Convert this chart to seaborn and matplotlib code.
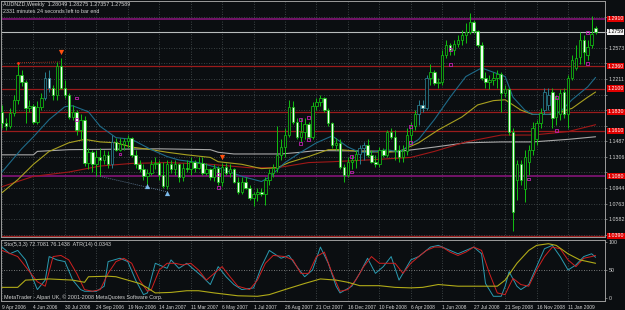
import numpy as np
import pandas as pd
import matplotlib
matplotlib.use("Agg")
import matplotlib.pyplot as plt
import matplotlib.transforms as mtransforms
import seaborn as sns

# ---------------- data (AUDNZD weekly, bar 0 = week of 9 Apr 2006) ----------------
open_ = [1.183, 1.170, 1.167, 1.182, 1.197, 1.226, 1.218, 1.188, 1.190, 1.171,
         1.189, 1.199, 1.222, 1.211, 1.202, 1.236, 1.211, 1.203, 1.177, 1.183,
         1.162, 1.174, 1.124, 1.136, 1.122, 1.131, 1.127, 1.133, 1.122, 1.148,
         1.139, 1.146, 1.149, 1.152, 1.133, 1.122, 1.116, 1.108, 1.112, 1.122,
         1.124, 1.110, 1.097, 1.122, 1.116, 1.122, 1.107, 1.118, 1.116, 1.125,
         1.118, 1.124, 1.112, 1.116, 1.107, 1.118, 1.101, 1.119, 1.112, 1.116,
         1.102, 1.090, 1.102, 1.095, 1.083, 1.087, 1.090, 1.087, 1.104, 1.112,
         1.118, 1.133, 1.142, 1.156, 1.189, 1.171, 1.154, 1.160, 1.169, 1.154,
         1.190, 1.194, 1.199, 1.185, 1.170, 1.145, 1.147, 1.119, 1.110, 1.125,
         1.127, 1.134, 1.141, 1.145, 1.133, 1.125, 1.122, 1.139, 1.133, 1.159,
         1.154, 1.139, 1.130, 1.137, 1.156, 1.166, 1.181, 1.191, 1.188, 1.222,
         1.229, 1.217, 1.218, 1.249, 1.261, 1.255, 1.262, 1.267, 1.272, 1.276,
         1.287, 1.277, 1.261, 1.222, 1.218, 1.220, 1.222, 1.227, 1.205, 1.209,
         1.159, 1.104, 1.122, 1.093, 1.125, 1.139, 1.151, 1.170, 1.185, 1.191,
         1.206, 1.177, 1.180, 1.206, 1.180, 1.222, 1.234, 1.247, 1.267, 1.249,
         1.261, 1.28049]
high_ = [1.191, 1.176, 1.188, 1.202, 1.240, 1.232, 1.220, 1.197, 1.192, 1.195,
         1.205, 1.229, 1.232, 1.214, 1.241, 1.246, 1.220, 1.205, 1.191, 1.185,
         1.180, 1.178, 1.141, 1.139, 1.139, 1.141, 1.139, 1.137, 1.156, 1.153,
         1.153, 1.153, 1.156, 1.154, 1.139, 1.127, 1.122, 1.116, 1.127, 1.130,
         1.127, 1.125, 1.127, 1.127, 1.127, 1.124, 1.124, 1.127, 1.130, 1.127,
         1.130, 1.130, 1.124, 1.118, 1.122, 1.120, 1.124, 1.123, 1.122, 1.118,
         1.107, 1.107, 1.107, 1.098, 1.090, 1.095, 1.095, 1.107, 1.116, 1.122,
         1.166, 1.151, 1.164, 1.197, 1.195, 1.176, 1.176, 1.176, 1.171, 1.194,
         1.199, 1.203, 1.200, 1.188, 1.171, 1.153, 1.151, 1.122, 1.130, 1.133,
         1.139, 1.145, 1.148, 1.151, 1.139, 1.133, 1.142, 1.141, 1.162, 1.164,
         1.162, 1.145, 1.145, 1.164, 1.171, 1.185, 1.197, 1.197, 1.226, 1.238,
         1.232, 1.222, 1.255, 1.267, 1.263, 1.267, 1.272, 1.278, 1.286, 1.298,
         1.290, 1.278, 1.264, 1.229, 1.226, 1.229, 1.232, 1.229, 1.214, 1.211,
         1.164, 1.127, 1.127, 1.139, 1.145, 1.171, 1.174, 1.188, 1.211, 1.211,
         1.211, 1.203, 1.209, 1.211, 1.226, 1.249, 1.261, 1.276, 1.272, 1.267,
         1.294, 1.28275]
low_ = [1.164, 1.162, 1.164, 1.178, 1.192, 1.213, 1.170, 1.183, 1.169, 1.169,
        1.185, 1.197, 1.206, 1.197, 1.197, 1.209, 1.199, 1.175, 1.173, 1.156,
        1.151, 1.120, 1.116, 1.113, 1.108, 1.108, 1.122, 1.118, 1.118, 1.137,
        1.137, 1.139, 1.141, 1.131, 1.118, 1.113, 1.104, 1.098, 1.109, 1.116,
        1.104, 1.095, 1.093, 1.112, 1.110, 1.102, 1.103, 1.113, 1.110, 1.113,
        1.116, 1.110, 1.109, 1.104, 1.103, 1.098, 1.097, 1.109, 1.107, 1.100,
        1.088, 1.087, 1.093, 1.081, 1.074, 1.079, 1.085, 1.075, 1.098, 1.107,
        1.113, 1.127, 1.130, 1.154, 1.169, 1.151, 1.148, 1.151, 1.151, 1.151,
        1.185, 1.190, 1.183, 1.167, 1.141, 1.139, 1.116, 1.101, 1.107, 1.116,
        1.118, 1.122, 1.127, 1.130, 1.123, 1.119, 1.119, 1.130, 1.130, 1.151,
        1.127, 1.125, 1.125, 1.133, 1.147, 1.162, 1.168, 1.183, 1.185, 1.214,
        1.214, 1.211, 1.214, 1.246, 1.249, 1.249, 1.258, 1.261, 1.263, 1.274,
        1.275, 1.258, 1.220, 1.211, 1.209, 1.214, 1.211, 1.183, 1.200, 1.156,
        1.045, 1.081, 1.098, 1.078, 1.110, 1.133, 1.145, 1.164, 1.180, 1.185,
        1.164, 1.168, 1.174, 1.176, 1.164, 1.220, 1.232, 1.238, 1.238, 1.243,
        1.257, 1.27357]
close_ = [1.170, 1.167, 1.182, 1.197, 1.226, 1.218, 1.188, 1.190, 1.171, 1.189,
          1.199, 1.222, 1.211, 1.202, 1.236, 1.211, 1.203, 1.177, 1.183, 1.162,
          1.174, 1.124, 1.136, 1.122, 1.131, 1.127, 1.133, 1.122, 1.148, 1.139,
          1.146, 1.149, 1.152, 1.133, 1.122, 1.116, 1.108, 1.112, 1.122, 1.124,
          1.110, 1.097, 1.122, 1.116, 1.122, 1.107, 1.118, 1.116, 1.125, 1.118,
          1.124, 1.112, 1.116, 1.107, 1.118, 1.101, 1.119, 1.112, 1.116, 1.102,
          1.090, 1.102, 1.095, 1.083, 1.087, 1.090, 1.087, 1.104, 1.112, 1.118,
          1.133, 1.142, 1.156, 1.189, 1.171, 1.154, 1.160, 1.169, 1.154, 1.190,
          1.194, 1.199, 1.185, 1.170, 1.145, 1.147, 1.119, 1.110, 1.125, 1.127,
          1.134, 1.141, 1.145, 1.133, 1.125, 1.122, 1.139, 1.133, 1.159, 1.154,
          1.139, 1.130, 1.137, 1.156, 1.166, 1.181, 1.191, 1.188, 1.222, 1.229,
          1.217, 1.218, 1.249, 1.261, 1.255, 1.262, 1.267, 1.272, 1.276, 1.287,
          1.277, 1.261, 1.222, 1.218, 1.220, 1.222, 1.227, 1.205, 1.209, 1.159,
          1.066, 1.122, 1.104, 1.131, 1.139, 1.164, 1.170, 1.182, 1.206, 1.203,
          1.176, 1.199, 1.205, 1.180, 1.222, 1.243, 1.246, 1.267, 1.253, 1.258,
          1.274, 1.27589]
teal_bars = [11, 12, 28, 91, 92, 106, 107, 108, 138, 139]

# moving averages, sampled along the chart (bar index, price)
ma_fast_bar = [0, 5, 8, 12, 16, 18, 22, 25, 29, 33, 38, 42, 45, 50, 55, 61, 66, 68, 72, 76,
               80, 84, 88, 91, 94, 98, 101, 106, 110, 114, 118, 122, 125, 128, 130, 133,
               135, 139, 142, 145, 149, 151]
ma_fast = [1.113, 1.140, 1.154, 1.174, 1.189, 1.190, 1.183, 1.166, 1.153, 1.151, 1.139, 1.131,
           1.127, 1.124, 1.118, 1.108, 1.102, 1.107, 1.124, 1.136, 1.147, 1.155, 1.142, 1.136,
           1.136, 1.139, 1.136, 1.151, 1.174, 1.200, 1.224, 1.234, 1.229, 1.224, 1.200, 1.185,
           1.180, 1.180, 1.183, 1.197, 1.212, 1.223]
ma_mid_bar = [0, 4, 8, 12, 17, 21, 25, 29, 33, 38, 42, 47, 53, 55, 61, 66, 70, 73, 78, 83,
              86, 91, 98, 101, 106, 111, 117, 121, 125, 128, 132, 135, 140, 145, 149, 151]
ma_mid = [1.089, 1.104, 1.122, 1.137, 1.147, 1.151, 1.148, 1.147, 1.142, 1.139, 1.136, 1.133,
          1.130, 1.125, 1.122, 1.117, 1.118, 1.124, 1.131, 1.139, 1.139, 1.137, 1.136, 1.137,
          1.147, 1.162, 1.177, 1.191, 1.196, 1.197, 1.185, 1.180, 1.180, 1.187, 1.200, 1.206]
ma_slow_bar = [0, 8, 17, 25, 33, 42, 53, 63, 70, 78, 84, 93, 104, 110, 118, 127, 135, 144, 151]
ma_slow = [1.096, 1.108, 1.113, 1.120, 1.123, 1.124, 1.122, 1.118, 1.118, 1.124, 1.125, 1.127,
           1.130, 1.137, 1.148, 1.156, 1.156, 1.160, 1.168]
ma_long_bar = [0, 8, 9, 17, 40, 53, 55, 59, 71, 76, 80, 101, 110, 118, 127, 135, 144, 151]
ma_long = [1.133, 1.133, 1.137, 1.139, 1.140, 1.139, 1.136, 1.134, 1.134, 1.136, 1.138, 1.137,
           1.142, 1.147, 1.148, 1.148, 1.151, 1.154]

# horizontal levels
red_levels = [1.236, 1.210, 1.183, 1.161, 1.039]
purple_levels = [1.291, 1.108]
bid_price = 1.27589
price_ticks = [1.2935, 1.2754, 1.2573, 1.2392, 1.2211, 1.2030, 1.1849, 1.1668, 1.1487,
               1.1306, 1.1125, 1.0944, 1.0763, 1.0582, 1.0401]

# signals / fractals
sell_arrow_bar = [15, 56]
sell_arrow_price = [1.252, 1.130]
buy_arrow_bar = [37, 42]
buy_arrow_price = [1.097, 1.089]
fractal_bar = [19, 19, 30, 55, 55, 76, 78, 76, 78, 89, 89, 104, 104, 114, 114, 134, 141, 141, 149, 149]
fractal_price = [1.199, 1.174, 1.134, 1.110, 1.095, 1.174, 1.176, 1.146, 1.151, 1.131, 1.113,
                 1.166, 1.147, 1.255, 1.238, 1.105, 1.200, 1.161, 1.275, 1.239]
res_line_bar = [4, 15]
res_line_price = [1.240, 1.241]
sup_line_bar = [25, 42]
sup_line_price = [1.108, 1.090]

# stochastic (5,3,3) main / signal and ATR(14)
sto_main_bar = [0, 2, 4, 6, 8, 9, 11, 12, 14, 16, 18, 20, 21, 24, 26, 27, 30, 32, 34, 36, 37, 39,
                42, 43, 45, 47, 49, 51, 53, 55, 57, 59, 61, 64, 66, 68, 71, 73, 75, 77, 79, 81,
                83, 85, 86, 89, 91, 93, 95, 97, 99, 101, 104, 106, 109, 111, 114, 116, 118, 120,
                122, 123, 125, 127, 128, 129, 131, 132, 134, 136, 138, 140, 142, 144, 146, 148,
                150, 151]
sto_main = [91, 79, 85, 68, 32, 15, 32, 74, 68, 65, 32, 15, 12, 12, 21, 65, 71, 65, 32, 6, 9, 62,
            53, 68, 53, 62, 50, 38, 24, 56, 38, 24, 15, 18, 56, 85, 71, 76, 56, 38, 50, 91,
            62, 21, 9, 21, 44, 71, 44, 56, 74, 32, 68, 74, 91, 94, 85, 79, 85, 91,
            79, 26, 3, 3, 21, 47, 21, 15, 24, 56, 88, 94, 74, 50, 59, 74,
            79, 72.7]
sto_sig_bar = [0, 4, 9, 11, 13, 15, 17, 19, 21, 23, 25, 27, 29, 31, 33, 35, 37, 38, 40, 42, 44, 46,
               48, 50, 52, 54, 56, 58, 60, 63, 65, 67, 69, 72, 74, 76, 78, 80, 82, 84, 86, 88,
               90, 92, 94, 96, 98, 100, 102, 104, 106, 108, 110, 112, 114, 116, 118, 120, 122,
               124, 126, 128, 129, 130, 132, 134, 136, 138, 140, 142, 144, 146, 148, 150, 151]
sto_sig = [85, 74, 29, 21, 74, 76, 68, 44, 15, 12, 15, 44, 65, 71, 62, 32, 12, 15, 50, 62, 62, 59,
           62, 50, 32, 44, 56, 38, 21, 15, 32, 62, 76, 74, 68, 44, 44, 74, 82, 44, 12, 15,
           32, 56, 74, 62, 62, 62, 44, 62, 74, 85, 91, 91, 82, 76, 82, 91, 85,
           44, 9, 6, 21, 35, 24, 21, 50, 74, 91, 88, 68, 56, 71, 74, 76.1]
atr_bar = [0, 4, 6, 12, 18, 21, 22, 27, 29, 32, 35, 37, 39, 43, 47, 50, 54, 60, 65, 68, 72, 77,
           81, 85, 88, 91, 96, 100, 104, 107, 111, 116, 121, 126, 128, 131, 134, 136, 139, 141,
           144, 147, 151]
atr = [0.0157, 0.0157, 0.0213, 0.0222, 0.0213, 0.0196, 0.0239, 0.0243, 0.0239, 0.0213, 0.0187,
       0.0153, 0.0114, 0.0118, 0.0131, 0.0131, 0.0114, 0.0092, 0.0088, 0.0101, 0.0140, 0.0187,
       0.0222, 0.0213, 0.0196, 0.0170, 0.0170, 0.0157, 0.0153, 0.0157, 0.0179, 0.0166, 0.0166,
       0.0166, 0.0213, 0.0343, 0.0442, 0.0481, 0.0494, 0.0481, 0.0416, 0.0369, 0.0343]

date_tick_bar = [0, 8, 16, 24, 32, 40, 48, 56, 64, 72, 80, 88, 96, 104, 112, 120, 128, 136, 144]
date_labels = ["9 Apr 2006", "4 Jun 2006", "30 Jul 2006", "24 Sep 2006", "19 Nov 2006",
               "14 Jan 2007", "11 Mar 2007", "6 May 2007", "1 Jul 2007", "26 Aug 2007",
               "21 Oct 2007", "16 Dec 2007", "10 Feb 2008", "6 Apr 2008", "1 Jun 2008",
               "27 Jul 2008", "21 Sep 2008", "16 Nov 2008", "11 Jan 2009"]

# ---------------- style ----------------
BG = "#0b0e11"
GRID = "#4a5254"
FRAME = "#9c9c9c"
TXT = "#d4d4d4"
GREEN = "#12c012"
TEALC = "#2a8090"
sns.set_theme(style="dark", rc={"axes.facecolor": BG, "figure.facecolor": BG})
plt.rcParams["font.family"] = ["Liberation Sans", "DejaVu Sans"]
FS = 3.9
FSY = 3.8
FSX = 3.5

W, H = 625, 310
fig = plt.figure(figsize=(W / 100, H / 100), dpi=100, facecolor=BG)
ax = fig.add_axes([1 / W, 1 - 237 / H, 604 / W, 236 / H])
ax2 = fig.add_axes([1 / W, 1 - 301 / H, 604 / W, 61 / H])
XL = (-0.25, 153.4)

for a in (ax, ax2):
    a.set_facecolor(BG)
    a.set_xlim(*XL)
    for s in a.spines.values():
        s.set_color(FRAME)
        s.set_linewidth(0.7)
    a.set_xticks(date_tick_bar)
    a.grid(True, axis="x", color=GRID, linestyle=(0, (1, 2)), linewidth=0.6)

# ---------- main price panel ----------
ax.set_ylim(1.0375, 1.3118)
boxed = red_levels + purple_levels + [bid_price]
ax.set_yticks(price_ticks)
ax.set_yticklabels(["" if min(abs(v - b) for b in boxed) < 0.0075 else f"{v:.4f}"
                    for v in price_ticks])
ax.grid(True, axis="y", color=GRID, linestyle=(0, (1, 2)), linewidth=0.6)
ax.yaxis.tick_right()
ax.tick_params(axis="y", labelsize=FSY, labelcolor=TXT, color=FRAME, length=1.5, width=0.5, pad=1.0)
ax.tick_params(axis="x", labelbottom=False, length=0)

for lv in red_levels:
    ax.axhline(lv, color="#9a1c1c", lw=0.9, zorder=2)
for lv in purple_levels:
    ax.axhline(lv, color="#7a1470", lw=1.3, zorder=2)
ax.axhline(bid_price, color="#b8bcbc", lw=0.8, zorder=2)

ma_df = [(ma_long_bar, ma_long, "#a8a8a8"), (ma_slow_bar, ma_slow, "#a01818"),
         (ma_mid_bar, ma_mid, "#a8a020"), (ma_fast_bar, ma_fast, "#1e6a88")]
for xb, yv, col in ma_df:
    sns.lineplot(x=xb, y=yv, ax=ax, color=col, linewidth=0.8, sort=False, zorder=3)

# trend lines
sns.lineplot(x=res_line_bar, y=res_line_price, ax=ax, color="#e03a20", linewidth=0.6,
             linestyle=(0, (1, 1.5)), sort=False, zorder=3)
sns.lineplot(x=sup_line_bar, y=sup_line_price, ax=ax, color="#7090b0", linewidth=0.6,
             linestyle=(0, (1, 1.5)), sort=False, zorder=3)

# candles
bars = np.arange(len(close_))
o = np.array(open_); c = np.array(close_); hi = np.array(high_); lo = np.array(low_)
edge = [TEALC if i in teal_bars else GREEN for i in bars]
ax.vlines(bars, lo, hi, colors=edge, linewidth=0.7, zorder=4)
body_h = np.maximum(np.abs(c - o), 0.0007)
fill = np.where(c >= o, BG, "#effff0")
ax.bar(bars, body_h, bottom=np.minimum(o, c), width=0.62, color=fill, edgecolor=edge,
       linewidth=0.55, zorder=5)

# markers
sns.scatterplot(x=fractal_bar, y=fractal_price, ax=ax, marker="s", s=4, facecolor="none",
                edgecolor="#c020b0", linewidth=0.6, zorder=6)
sns.scatterplot(x=sell_arrow_bar, y=sell_arrow_price, ax=ax, marker="v", s=14,
                color="#ff5010", linewidth=0, zorder=7)
sns.scatterplot(x=buy_arrow_bar, y=buy_arrow_price, ax=ax, marker="^", s=14,
                color="#7ab8e8", linewidth=0, zorder=7)
sns.scatterplot(x=[res_line_bar[0]], y=[res_line_price[0]], ax=ax, s=4, color="#ff3010",
                linewidth=0, zorder=7)

# price labels in boxes
trans = mtransforms.blended_transform_factory(ax.transAxes, ax.transData)
for lv in red_levels + purple_levels:
    ax.text(1.004, lv, f"{lv:.4f}", transform=trans, fontsize=FSY, color="#ffffff",
            va="center", ha="left", clip_on=False, zorder=10,
            bbox=dict(boxstyle="square,pad=0.12", fc="#e00000", ec="none"))
ax.text(1.004, bid_price, f"{bid_price:.4f}", transform=trans, fontsize=FSY, color="#000000",
        va="center", ha="left", clip_on=False, zorder=10,
        bbox=dict(boxstyle="square,pad=0.12", fc="#f4f4f4", ec="none"))

fig.text(3 / W, 1 - 2 / H, "AUDNZD,Weekly  1.28049 1.28275 1.27357 1.27589",
         fontsize=FS, color=TXT, va="top", ha="left")
fig.text(3 / W, 1 - 9 / H, "2331 minutes 24 seconds left to bar end",
         fontsize=FS, color=TXT, va="top", ha="left")

# ---------- indicator panel ----------
ax3 = ax2.twinx()
ax3.set_ylim(0.00517, 0.05226)
ax3.set_xlim(*XL)
ax3.axis("off")
sns.lineplot(x=atr_bar, y=atr, ax=ax3, color="#b0aa18", linewidth=0.8, sort=False)

ax2.set_ylim(-5.4, 103.6)
ax2.set_yticks([0, 50, 100])
ax2.set_yticklabels(["0", "50", "100"])
ax2.yaxis.tick_right()
ax2.tick_params(axis="y", left=False, labelleft=False, right=True, labelright=True,
                labelsize=FSY, labelcolor=TXT, color=FRAME, length=1.5, width=0.5, pad=1.0)
ax2.axhline(50, color="#a0a0a0", lw=0.6, linestyle=(0, (1, 2)), zorder=1)
ax2.set_xticklabels(date_labels, ha="left")
ax2.tick_params(axis="x", labelsize=FSX, labelcolor=TXT, color=FRAME, length=2, width=0.5, pad=1)

sns.lineplot(x=sto_main_bar, y=sto_main, ax=ax2, color="#2a9ab0", linewidth=0.7, sort=False, zorder=3)
sns.lineplot(x=sto_sig_bar, y=sto_sig, ax=ax2, color="#d02020", linewidth=0.7, sort=False, zorder=3)

ax2.text(0.005, 0.96, "Sto(5,3,3) 72.7081 76.1438  ATR(14) 0.0343", transform=ax2.transAxes,
         fontsize=FS, color=TXT, va="top", ha="left")
ax2.text(0.005, 0.07, "MetaTrader - Alpari UK, \u00a9 2001-2008 MetaQuotes Software Corp.",
         transform=ax2.transAxes, fontsize=FS, color=TXT, va="center", ha="left")

for a in (ax, ax2, ax3):
    a.set_xlabel("")
    a.set_ylabel("")

fig.savefig("out.png", dpi=100, facecolor=BG)
